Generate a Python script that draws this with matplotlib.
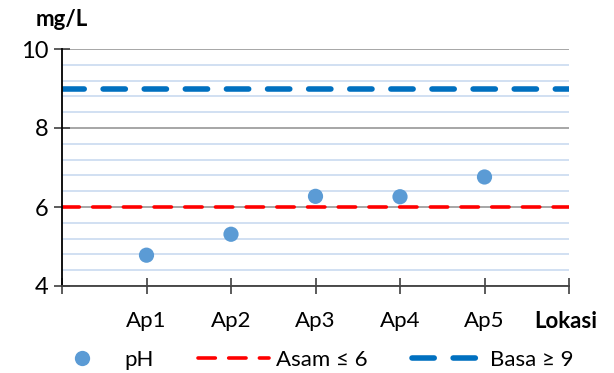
import matplotlib
matplotlib.use("Agg")
import matplotlib.pyplot as plt
from matplotlib.lines import Line2D
from matplotlib.ticker import MultipleLocator

plt.rcParams['font.family'] = ['Lato', 'DejaVu Sans']

# pH per lokasi sampling
lokasi = ['Ap1', 'Ap2', 'Ap3', 'Ap4', 'Ap5']
ph = [4.78, 5.31, 6.27, 6.26, 6.76]
batas_asam = 6
batas_basa = 9

fig = plt.figure(figsize=(6.14, 3.73), dpi=100)
ax = fig.add_axes([62 / 614, 1 - 286 / 373, (569 - 62) / 614, (286 - 49) / 373])

x = list(range(1, len(lokasi) + 1))

# garis grid
ax.yaxis.set_major_locator(MultipleLocator(2))
ax.yaxis.set_minor_locator(MultipleLocator(0.4))
ax.grid(which='minor', axis='y', color='#c9daf0', lw=1.2, zorder=0)
ax.grid(which='major', axis='y', color='#a6a6a6', lw=1.4, zorder=0)

ax.axhline(batas_basa, color='#0070c0', lw=4, dashes=(4, 3.4),
           dash_capstyle='round', zorder=2)
ax.axhline(batas_asam, color='#ff0000', lw=2.6, dashes=(4.8, 3.7),
           dash_capstyle='round', zorder=2)
ax.scatter(x, ph, s=120, color='#5b9bd5', zorder=3, edgecolors='none')

ax.set_xlim(0, len(lokasi) + 1)
ax.set_ylim(4, 10)
ax.set_xticks(range(0, len(lokasi) + 2))
ax.set_xticklabels([''] + lokasi + [''])
ax.tick_params(axis='x', direction='inout', length=12, width=1.2,
               color='#404040', labelsize=16, pad=12)
ax.tick_params(axis='y', which='major', direction='inout', length=12, width=1.2,
               color='#404040', labelsize=17, pad=4)
ax.tick_params(axis='y', which='minor', length=0)

for s in ['top', 'right']:
    ax.spines[s].set_visible(False)
ax.spines['left'].set_color('#000000')
ax.spines['bottom'].set_color('#404040')
ax.spines['left'].set_linewidth(1.3)
ax.spines['bottom'].set_linewidth(1.3)

fig.text(62 / 614, 1 - 20 / 373, 'mg/L', fontsize=16, fontweight='bold',
         ha='center', va='center')
fig.text(566 / 614, 1 - 321 / 373, 'Lokasi', fontsize=16, fontweight='bold',
         ha='center', va='center')

handles = [
    Line2D([], [], ls='none', marker='o', ms=11, color='#5b9bd5', mec='none'),
    Line2D([], [], color='#ff0000', lw=2.6, dashes=(4.8, 3.7), dash_capstyle='round'),
    Line2D([], [], color='#0070c0', lw=4, dashes=(4, 3.4), dash_capstyle='round'),
]
fig.legend(handles, ['pH', 'Asam ≤ 6', 'Basa ≥ 9'], loc='center',
           bbox_to_anchor=(0.505, 1 - 360 / 373), ncol=3, frameon=False,
           fontsize=16, handlelength=3.2, columnspacing=2.0, handletextpad=0.3)

fig.savefig('out.png', dpi=100)
